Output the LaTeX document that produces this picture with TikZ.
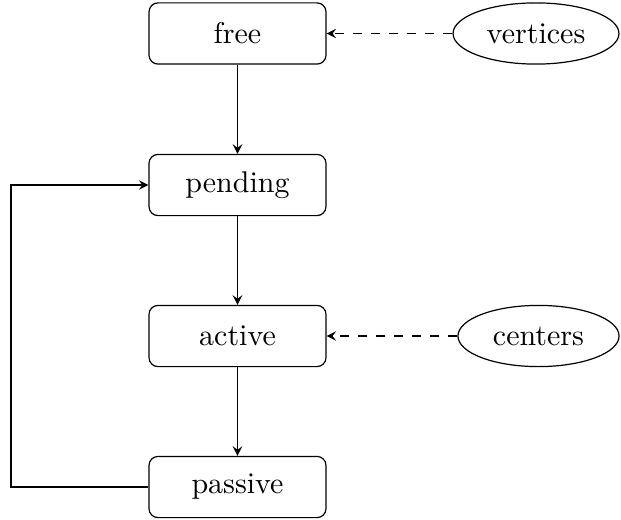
\documentclass[tikz,border=0pt]{standalone}
\usetikzlibrary{shapes.geometric}
\begin{document}
\begin{tikzpicture}[x=0.33333pt,y=-0.33333pt,
  statebox/.style={draw,rounded corners=3pt,minimum width=59pt,minimum height=20.4pt,inner sep=0pt},
  srcell/.style={draw,ellipse,minimum height=20.4pt,inner sep=0pt},
  flow/.style={-stealth},
  feed/.style={-stealth,dashed}]
\useasboundingbox (0,0) rectangle (621,519);
\node[statebox] (free) at (237.5,33.5) {free};
\node[statebox] (pending) at (237.5,185) {pending};
\node[statebox] (active) at (237.5,336) {active};
\node[statebox] (passive) at (237.5,487) {passive};
\node[srcell,minimum width=55.3pt] (vertices) at (536,33.5) {vertices};
\node[srcell,minimum width=53.7pt] (centers) at (538.5,336) {centers};
\coordinate (lb) at (11,487);
\coordinate (lt) at (11,185);
\draw[flow] (free) -- (pending);
\draw[flow] (pending) -- (active);
\draw[flow] (active) -- (passive);
\draw[flow] (passive.west) -- (lb) -- (lt) -- (pending.west);
\draw[feed] (vertices) -- (free);
\draw[feed] (centers) -- (active);
\end{tikzpicture}
\end{document}
